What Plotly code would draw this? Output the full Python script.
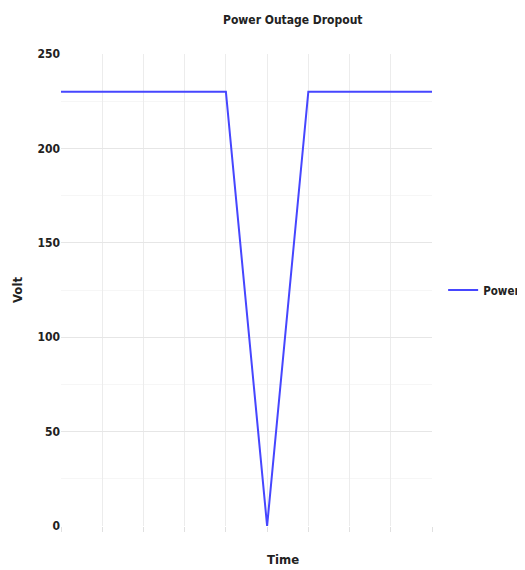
import plotly.graph_objects as go

time_idx = [0, 1, 2, 3, 4, 5, 6, 7, 8, 9]
volts = [230, 230, 230, 230, 230, 0, 230, 230, 230, 230]
y_ticks = [0, 50, 100, 150, 200, 250]

font_fam = "DejaVu Sans Condensed, DejaVu Sans, sans-serif"

fig = go.Figure()
fig.add_trace(go.Scatter(x=time_idx, y=volts, mode="lines", name="Power",
                         line=dict(color="#4646ff", width=2)))

fig.update_layout(
    width=517, height=562,
    margin=dict(l=53, r=93, t=46, b=44, autoexpand=False),
    paper_bgcolor="white", plot_bgcolor="white",
    font=dict(family=font_fam, size=12, color="#222"),
    showlegend=True,
    legend=dict(x=1.03, y=0.5, xanchor="left", yanchor="middle",
                font=dict(size=11.5, family=font_fam, weight="bold"),
                bgcolor="rgba(0,0,0,0)", itemwidth=30),
    xaxis=dict(range=[0, 9], tickvals=time_idx, showticklabels=False,
               showgrid=True, gridcolor="#ececec", gridwidth=1,
               ticks="outside", ticklen=5, tickcolor="#e0e0e0",
               zeroline=False, showline=False),
    yaxis=dict(range=[0, 250], tickvals=y_ticks,
               showgrid=True, gridcolor="#e6e6e6", gridwidth=1,
               minor=dict(dtick=25, showgrid=True, gridcolor="#f6f6f6"),
               zeroline=False, showline=False, ticks="",
               tickfont=dict(size=12, family=font_fam, weight="bold", color="#222")),
    annotations=[
        dict(text="Power Outage Dropout", xref="paper", yref="paper",
             x=0.625, y=1.0, yshift=34, xanchor="center", yanchor="middle",
             showarrow=False, font=dict(size=12, family=font_fam, weight="bold", color="#222")),
        dict(text="Time", xref="paper", yref="paper",
             x=0.598, y=0, yshift=-33, xanchor="center", yanchor="middle",
             showarrow=False, font=dict(size=13, family=font_fam, weight="bold", color="#222")),
        dict(text="Volt", xref="paper", yref="paper",
             x=0, xshift=-44, y=0.5, xanchor="center", yanchor="middle", textangle=-90,
             showarrow=False, font=dict(size=13, family=font_fam, weight="bold", color="#222")),
    ],
)

fig.write_html("out.html")
